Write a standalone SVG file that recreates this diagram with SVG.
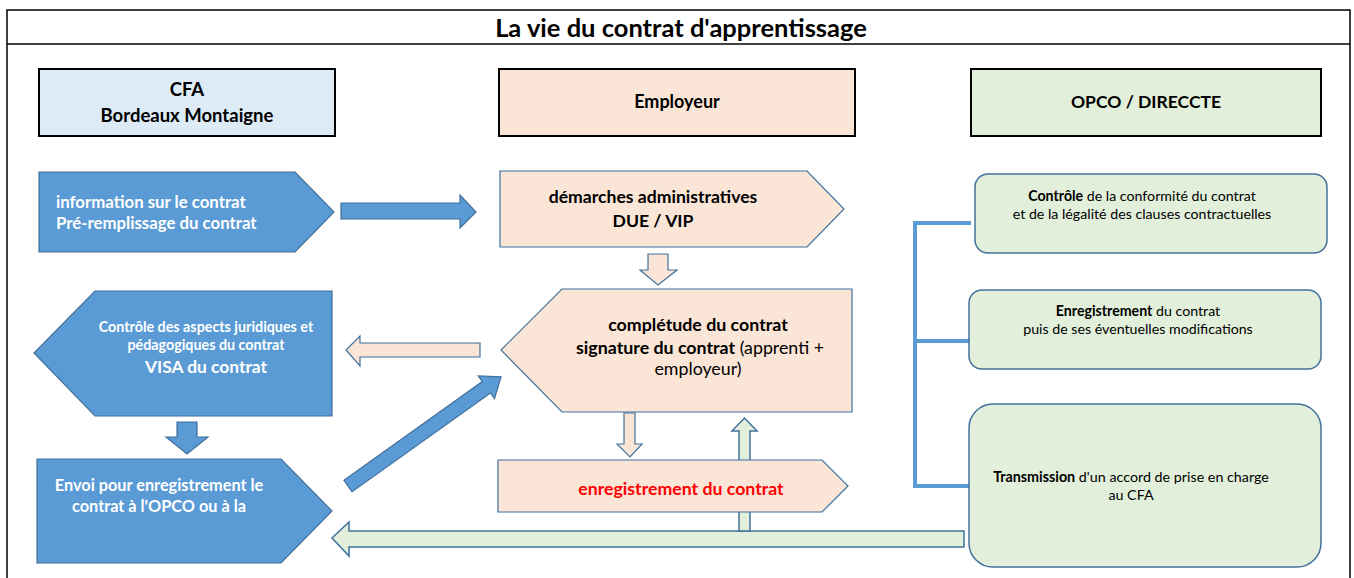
<svg xmlns="http://www.w3.org/2000/svg" width="1354" height="578" viewBox="0 0 1354 578">
<style>
text{font-family:Lato,"Liberation Sans",sans-serif;}
.b{font-weight:bold;}
.w{fill:#ffffff;}
.hdr{stroke:#000000;stroke-width:2;}
.blue{fill:#5B9BD5;stroke:#41719C;stroke-width:1.2;}
.peach{fill:#FBE5D6;stroke:#41719C;stroke-width:1.2;}
.green{fill:#E2EFDA;stroke:#41719C;stroke-width:1.5;}
.c{text-anchor:middle;}
</style>
<rect x="0" y="0" width="1354" height="578" fill="#ffffff"/>
<g id="frame">
<rect x="7" y="10" width="1343" height="580" fill="#ffffff" stroke="#000000" stroke-width="1.5"/>
<line x1="7" y1="44" x2="1350" y2="44" stroke="#000000" stroke-width="1.5"/>
<text x="681" y="37" class="b c" font-size="25.5">La vie du contrat d'apprentissage</text>
</g>
<g id="hdr-cfa">
<rect x="39" y="69" width="296" height="67" fill="#DDEBF7" class="hdr"/>
<text x="187" y="96" class="b c" font-size="18.5">CFA</text>
<text x="187" y="122" class="b c" font-size="18.5">Bordeaux Montaigne</text>
</g>
<g id="hdr-employeur">
<rect x="499" y="69" width="356" height="67" fill="#FBE5D6" class="hdr"/>
<text x="677" y="108" class="b c" font-size="18">Employeur</text>
</g>
<g id="hdr-opco">
<rect x="971" y="69" width="350" height="67" fill="#E2EFDA" class="hdr"/>
<text x="1146" y="108" class="b c" font-size="17.5">OPCO / DIRECCTE</text>
</g>
<g id="node-information">
<polygon points="39,172 295,172 334,212 295,252 39,252" class="blue"/>
<text x="56" y="208" class="b w" font-size="16.8">information sur le contrat</text>
<text x="56" y="229" class="b w" font-size="16.8">Pré-remplissage du contrat</text>
</g>
<g id="node-demarches">
<polygon points="500,171 807,171 844,209 807,247 500,247" class="peach"/>
<text x="653" y="203" class="b c" font-size="17.6">démarches administratives</text>
<text x="653" y="227" class="b c" font-size="17.6">DUE / VIP</text>
</g>
<g id="node-controle">
<polygon points="95,291 332,291 332,416 95,416 34,353" class="blue"/>
<text x="206" y="332" class="b w c" font-size="14.3">Contrôle des aspects juridiques et</text>
<text x="206" y="350" class="b w c" font-size="14.3">pédagogiques du contrat</text>
<text x="206" y="373" class="b w c" font-size="17.4">VISA du contrat</text>
</g>
<g id="node-completude">
<polygon points="562,289 852,289 852,412 562,412 501,350" class="peach"/>
<text x="698" y="331" class="b c" font-size="17.8">complétude du contrat</text>
<text x="700" y="354" class="c" font-size="17.8"><tspan class="b">signature du contrat</tspan> (apprenti +</text>
<text x="698" y="375" class="c" font-size="17.8">employeur)</text>
</g>
<g id="node-envoi">
<polygon points="37,459 281,459 332,511 281,563 37,563" class="blue"/>
<text x="159" y="491" class="b w c" font-size="16.3">Envoi pour enregistrement le</text>
<text x="159" y="512" class="b w c" font-size="16.3">contrat à l'OPCO ou à la</text>
</g>
<g id="connectors">
<polygon points="341,203 460,203 460,195 476,212 460,228 460,219 341,219" class="blue"/>
<polygon points="648,254 668,254 668,270 677,270 658,285 640,270 648,270" class="peach"/>
<polygon points="480,343 360,343 360,336 346,350 360,366 360,357 480,357" class="peach"/>
<polygon points="177,422 197,422 197,437 208,437 187,454 166,437 177,437" class="blue"/>
<polygon points="0,-7 170,-7 170,-14 188,0 170,14 170,7 0,7" class="blue" transform="translate(348,486) rotate(-35.5)"/>
<polygon points="624,413 635,413 635,444 642,444 630,457 617,444 624,444" class="peach"/>
<polygon points="964,531 349,531 349,522 332,538 349,556 349,547 964,547" class="green"/>
<polygon points="739,531 739,431 732,431 744.5,418 757,431 750,431 750,531" class="green"/>
<path d="M971,223 H915 V486 H969 M915,341 H969" fill="none" stroke="#5B9BD5" stroke-width="4"/>
</g>
<g id="node-enregistrement">
<polygon points="498,460 822,460 848,486 822,512 498,512" class="peach"/>
<text x="681" y="495" class="b c" font-size="17.7" fill="#FF0000">enregistrement du contrat</text>
</g>
<g id="node-opco-controle">
<rect x="975" y="174" width="352" height="79" rx="13" class="green"/>
<text x="1142" y="201" class="c" font-size="14.2"><tspan class="b">Contrôle</tspan> de la conformité du contrat</text>
<text x="1142" y="219" class="c" font-size="14.2">et de la légalité des clauses contractuelles</text>
</g>
<g id="node-opco-enregistrement">
<rect x="969" y="290" width="352" height="79" rx="13" class="green"/>
<text x="1138" y="316" class="c" font-size="14.2"><tspan class="b">Enregistrement</tspan> du contrat</text>
<text x="1138" y="334" class="c" font-size="14.2">puis de ses éventuelles modifications</text>
</g>
<g id="node-opco-transmission">
<rect x="969" y="404" width="352" height="163" rx="24" class="green"/>
<text x="1131" y="482" class="c" font-size="14.3"><tspan class="b">Transmission</tspan> d'un accord de prise en charge</text>
<text x="1131" y="500" class="c" font-size="14.3">au CFA</text>
</g>
</svg>
